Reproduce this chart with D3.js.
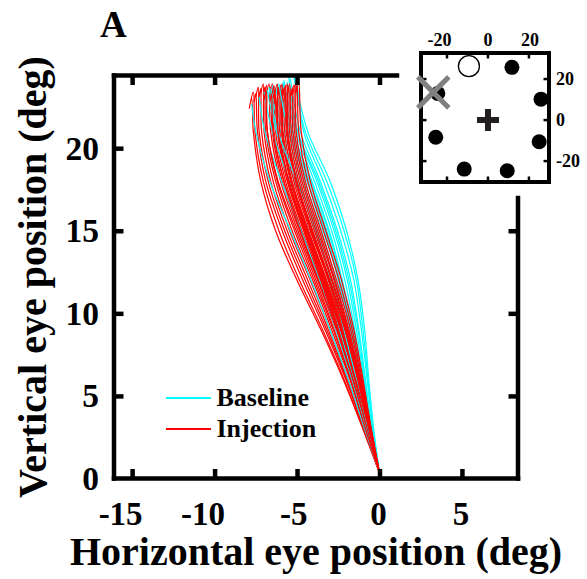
<!DOCTYPE html>
<html><head><meta charset="utf-8">
<script src="https://cdn.jsdelivr.net/npm/d3@7"></script>
<style>
body{margin:0;background:#fff}
svg{display:block}
text{font-family:"Liberation Serif","Times New Roman",serif;font-weight:bold;fill:#000}
</style>
</head><body><svg id="c" width="587" height="579"></svg>
<script>
// ---------- data ----------
const xTicks = [-15, -10, -5, 0, 5];
const yTicks = [0, 5, 10, 15, 20];
const xLabels = ["-15", "-10", "-5", "0", "5"];
const yLabels = ["0", "5", "10", "15", "20"];
const seriesNames = ["Baseline", "Injection"];
const seriesColors = ["#00ffff", "#ff0000"];

// vertical levels (deg) at which each trace's horizontal position is read
const yLevels = [0.35, 3, 6, 9, 12, 15, 18, 21];

// Baseline traces: horizontal position at each yLevel
const baselineX = [
  [0, -0.35, -0.65, -0.9, -1.3, -2.0, -3.0, -4.35],
  [0, -0.4, -0.7, -1.0, -1.4, -2.15, -3.2, -4.5],
  [0, -0.4, -0.75, -1.1, -1.55, -2.35, -3.4, -4.6],
  [0, -0.45, -0.85, -1.25, -1.75, -2.55, -3.6, -4.8],
  [0, -0.5, -0.95, -1.4, -1.95, -2.75, -3.8, -5.0],
  [0, -0.5, -1.0, -1.5, -2.1, -2.9, -3.95, -5.1],
  [0, -0.55, -1.05, -1.6, -2.25, -3.05, -4.1, -5.25],
  [0, -0.55, -1.1, -1.7, -2.4, -3.2, -4.25, -5.4],
  [0, -0.6, -1.2, -1.8, -2.5, -3.35, -4.4, -5.55],
  [0, -0.6, -1.25, -1.9, -2.65, -3.5, -4.55, -5.7],
  [0, -0.65, -1.3, -2.0, -2.75, -3.65, -4.7, -5.85],
  [0, -0.65, -1.4, -2.1, -2.9, -3.8, -4.9, -6.0],
  [0, -0.7, -1.45, -2.25, -3.1, -4.05, -5.15, -6.25],
  [0, -0.75, -1.55, -2.4, -3.3, -4.3, -5.45, -6.5],
  [0, -0.8, -1.7, -2.65, -3.65, -4.75, -5.95, -6.95],
  [0, -0.9, -1.9, -3.0, -4.15, -5.4, -6.65, -7.5],
  [0, -0.45, -0.9, -1.3, -1.85, -2.65, -3.7, -4.95],
  [0, -0.55, -1.1, -1.65, -2.3, -3.1, -4.15, -5.3],
  [0, -0.6, -1.15, -1.75, -2.45, -3.3, -4.35, -5.5],
  [0, -0.7, -1.4, -2.15, -2.95, -3.9, -5.0, -6.15]
];
// Baseline trace end points [x, y]
const baselineEnd = [
  [-5.15, 24.3], [-5.2, 24.4], [-5.0, 24.4], [-5.4, 24.2], [-5.6, 24.0],
  [-5.8, 24.1], [-5.9, 23.9], [-6.0, 23.8], [-6.2, 23.9], [-6.3, 23.7],
  [-6.5, 23.8], [-6.6, 23.6], [-6.8, 23.5], [-7.0, 23.4], [-7.3, 23.1],
  [-7.75, 22.7], [-5.5, 24.3], [-5.85, 24.0], [-6.1, 23.9], [-6.7, 23.7]
];

// Injection traces: horizontal position at each yLevel
const injectionX = [
  [0, -1.0, -2.2, -3.55, -5.0, -6.3, -7.2, -7.65],
  [0, -1.0, -2.15, -3.45, -4.85, -6.1, -7.05, -7.55],
  [0, -0.95, -2.05, -3.3, -4.65, -5.9, -6.9, -7.4],
  [0, -0.95, -2.0, -3.2, -4.5, -5.75, -6.75, -7.3],
  [0, -0.9, -1.95, -3.1, -4.35, -5.6, -6.6, -7.15],
  [0, -0.9, -1.9, -3.0, -4.2, -5.45, -6.45, -7.0],
  [0, -0.85, -1.8, -2.9, -4.05, -5.3, -6.3, -6.9],
  [0, -0.85, -1.75, -2.8, -3.95, -5.15, -6.2, -6.8],
  [0, -0.8, -1.65, -2.65, -3.75, -4.95, -6.0, -6.6],
  [0, -0.8, -1.65, -2.6, -3.7, -4.85, -5.9, -6.5],
  [0, -0.75, -1.6, -2.55, -3.6, -4.75, -5.8, -6.4],
  [0, -0.75, -1.55, -2.5, -3.55, -4.7, -5.7, -6.3],
  [0, -0.75, -1.55, -2.45, -3.5, -4.6, -5.6, -6.2],
  [0, -0.7, -1.5, -2.4, -3.45, -4.55, -5.55, -6.15],
  [0, -0.7, -1.5, -2.35, -3.4, -4.5, -5.5, -6.05],
  [0, -0.7, -1.45, -2.3, -3.3, -4.4, -5.4, -5.95],
  [0, -0.7, -1.4, -2.25, -3.25, -4.35, -5.35, -5.9],
  [0, -0.65, -1.4, -2.2, -3.2, -4.3, -5.3, -5.85],
  [0, -0.65, -1.35, -2.15, -3.1, -4.2, -5.2, -5.75],
  [0, -0.65, -1.35, -2.1, -3.05, -4.15, -5.1, -5.65],
  [0, -0.6, -1.3, -2.05, -3.0, -4.05, -5.0, -5.55],
  [0, -0.6, -1.25, -2.0, -2.9, -3.95, -4.9, -5.45],
  [0, -0.6, -1.2, -1.95, -2.85, -3.85, -4.8, -5.35],
  [0, -0.55, -1.2, -1.9, -2.75, -3.75, -4.7, -5.25],
  [0, -0.55, -1.15, -1.85, -2.7, -3.65, -4.6, -5.15],
  [0, -0.55, -1.1, -1.75, -2.6, -3.55, -4.5, -5.05],
  [0, -0.5, -1.05, -1.65, -2.45, -3.4, -4.35, -4.9],
  [0, -0.5, -1.0, -1.55, -2.3, -3.25, -4.2, -4.75],
  [0, -0.75, -1.6, -2.6, -3.7, -4.8, -5.8, -6.45],
  [0, -0.65, -1.45, -2.35, -3.35, -4.45, -5.5, -6.15],
  [0, -0.85, -1.75, -2.75, -3.85, -5.05, -6.15, -6.8],
  [0, -0.6, -1.3, -2.1, -3.05, -4.1, -5.05, -5.6]
];
// Injection trace peak [x, y] and small end hook [x, y]
const injectionEnd = [
  [-7.75, 23.0], [-7.65, 23.4], [-7.5, 23.3], [-7.35, 23.7], [-7.2, 23.6],
  [-7.05, 23.9], [-6.95, 23.7], [-6.85, 23.8], [-6.7, 23.9], [-6.6, 23.7],
  [-6.5, 23.9], [-6.4, 23.8], [-6.35, 23.5], [-6.2, 23.9], [-6.1, 23.7],
  [-6.0, 23.8], [-5.95, 23.5], [-5.9, 23.9], [-5.8, 23.6], [-5.7, 23.8],
  [-5.6, 23.9], [-5.5, 23.7], [-5.45, 23.9], [-5.3, 23.6], [-5.2, 23.8],
  [-5.1, 23.9], [-5.0, 23.8], [-4.9, 24.0], [-6.55, 23.3], [-6.3, 23.2],
  [-6.9, 23.4], [-5.7, 23.3]
];
const injectionHook = [
  [-7.9, 22.4], [-7.8, 22.9], [-7.6, 22.8], [-7.5, 23.1], [-7.3, 23.1],
  [-7.2, 23.3], [-7.05, 23.2], [-7.0, 23.2], [-6.85, 23.3], [-6.7, 23.2],
  [-6.65, 23.3], [-6.5, 23.3], [-6.45, 23.0], [-6.35, 23.3], [-6.2, 23.2],
  [-6.15, 23.2], [-6.05, 23.0], [-6.05, 23.3], [-5.9, 23.1], [-5.85, 23.2],
  [-5.75, 23.3], [-5.6, 23.2], [-5.6, 23.3], [-5.4, 23.1], [-5.35, 23.2],
  [-5.25, 23.3], [-5.1, 23.3], [-5.05, 23.4], [-6.65, 22.8], [-6.4, 22.7],
  [-7.0, 22.9], [-5.8, 22.8]
];

// Inset (target layout, deg)
const insetTicks = [-20, 0, 20];
const insetTickLabels = ["-20", "0", "20"];
const targetX = [11.7, 25.9, 25.0, 9.4, -11.6, -25.5, -24.5];
const targetY = [25.7, 10.2, -10.6, -24.7, -23.9, -8.4, 13.0];
const chosenTarget = [-9.3, 26.3];
const inactivated = [-26.7, 13.5];
const fixation = [0, 0];

// ---------- drawing ----------
const svg = d3.select("#c");
const x = d3.scaleLinear().domain([-16.1, 8.4]).range([114, 518]);
const y = d3.scaleLinear().domain([0, 24.4]).range([478.5, 75.5]);

// traces, drawn in interleaved trial order
const line = d3.line().x(d => x(d[0])).y(d => y(d[1])).curve(d3.curveCatmullRom.alpha(0.5));
function tracePoints(xs, end, hook) {
  const p = xs.map((v, i) => [v, yLevels[i]]).concat([end]);
  return hook ? p.concat([hook]) : p;
}
const traces = [];
for (let i = 0; i < Math.max(injectionX.length, baselineX.length); i++) {
  if (i < injectionX.length) traces.push({ c: seriesColors[1], p: tracePoints(injectionX[i], injectionEnd[i], injectionHook[i]) });
  if (i < baselineX.length) traces.push({ c: seriesColors[0], p: tracePoints(baselineX[i], baselineEnd[i]) });
}
svg.append("g").attr("fill", "none").attr("stroke-width", 1.2)
  .selectAll("path").data(traces).join("path")
  .attr("stroke", d => d.c).attr("d", d => line(d.p));

// frame (top and right sides cut where inset sits)
const topEnd = 397, rightStart = 198;
const frame = svg.append("g").attr("stroke", "#000").attr("stroke-width", 4.5).attr("stroke-linecap", "square");
frame.append("line").attr("x1", x.range()[0]).attr("x2", x.range()[1]).attr("y1", y.range()[0]).attr("y2", y.range()[0]);
frame.append("line").attr("x1", x.range()[0]).attr("x2", x.range()[0]).attr("y1", y.range()[0]).attr("y2", y.range()[1]);
frame.append("line").attr("x1", x.range()[0]).attr("x2", topEnd).attr("y1", y.range()[1]).attr("y2", y.range()[1]);
frame.append("line").attr("x1", x.range()[1]).attr("x2", x.range()[1]).attr("y1", y.range()[0]).attr("y2", rightStart);

// ticks via d3 axes (inward)
const tl = 9.5;
function styleAxis(g) {
  g.select(".domain").remove();
  g.selectAll(".tick line").attr("stroke", "#000").attr("stroke-width", 4.5);
  g.selectAll(".tick text").remove();
}
svg.append("g").attr("transform", `translate(0,${y.range()[0]})`)
  .call(d3.axisBottom(x).tickValues(xTicks).tickSize(-tl)).call(styleAxis);
svg.append("g").attr("transform", `translate(0,${y.range()[1]})`)
  .call(d3.axisTop(x).tickValues(xTicks.filter(v => x(v) < topEnd)).tickSize(-tl)).call(styleAxis);
svg.append("g").attr("transform", `translate(${x.range()[0]},0)`)
  .call(d3.axisLeft(y).tickValues(yTicks.filter(v => v > 0)).tickSize(-tl)).call(styleAxis);
svg.append("g").attr("transform", `translate(${x.range()[1]},0)`)
  .call(d3.axisRight(y).tickValues(yTicks.filter(v => v > 0 && y(v) > rightStart)).tickSize(-tl)).call(styleAxis);

// tick labels
svg.append("g").selectAll("text").data(xTicks).join("text")
  .attr("x", d => d < 0 ? x(d) + 10.5 : x(d) - 1).attr("y", 525)
  .attr("text-anchor", d => d < 0 ? "end" : "middle").attr("font-size", 33)
  .text((d, i) => xLabels[i]);
svg.append("g").selectAll("text").data(yTicks).join("text")
  .attr("x", 99).attr("y", d => y(d)).attr("dy", "0.34em")
  .attr("text-anchor", "end").attr("font-size", 33.5)
  .text((d, i) => yLabels[i]);

// axis titles
svg.append("text").attr("x", 316).attr("y", 565).attr("text-anchor", "middle")
  .attr("font-size", 40).text("Horizontal eye position (deg)");
svg.append("text").attr("transform", "translate(46,277) rotate(-90)").attr("text-anchor", "middle")
  .attr("font-size", 40).text("Vertical eye position (deg)");

// panel letter
svg.append("text").attr("x", 100).attr("y", 37).attr("font-size", 37).text("A");

// legend
const lg = svg.append("g");
[398, 429].forEach((ly, i) => {
  lg.append("line").attr("x1", 166).attr("x2", 211).attr("y1", ly).attr("y2", ly)
    .attr("stroke", seriesColors[i]).attr("stroke-width", 2);
  lg.append("text").attr("x", 216.5).attr("y", ly + 7.5).attr("font-size", 26).text(seriesNames[i]);
});

// ---------- inset ----------
const ix = d3.scaleLinear().domain([-32.7, 29.8]).range([421, 549]);
const iy = d3.scaleLinear().domain([-30.2, 32.7]).range([182, 53]);
const ig = svg.append("g");
ig.append("rect").attr("x", 421).attr("y", 53).attr("width", 128).attr("height", 129)
  .attr("fill", "#fff").attr("stroke", "#000").attr("stroke-width", 4);
const it = ig.append("g").attr("stroke", "#000").attr("stroke-width", 2.5);
insetTicks.forEach(v => {
  it.append("line").attr("x1", ix(v)).attr("x2", ix(v)).attr("y1", 55).attr("y2", 58.5);
  it.append("line").attr("x1", ix(v)).attr("x2", ix(v)).attr("y1", 180).attr("y2", 176.5);
  it.append("line").attr("y1", iy(v)).attr("y2", iy(v)).attr("x1", 423).attr("x2", 426.5);
  it.append("line").attr("y1", iy(v)).attr("y2", iy(v)).attr("x1", 547).attr("x2", 543.5);
});
ig.selectAll("text.t").data(insetTicks).join("text").attr("class", "t")
  .attr("x", d => d < 0 ? ix(d) + 4.5 : ix(d) + (d > 0 ? 1 : 0)).attr("y", 46)
  .attr("text-anchor", d => d < 0 ? "end" : "middle").attr("font-size", 18).text((d, i) => insetTickLabels[i]);
ig.selectAll("text.r").data(insetTicks).join("text").attr("class", "r")
  .attr("x", 556).attr("y", d => iy(d)).attr("dy", "0.34em")
  .attr("font-size", 18).text((d, i) => insetTickLabels[i]);

ig.selectAll("circle.f").data(targetX).join("circle").attr("class", "f")
  .attr("cx", d => ix(d)).attr("cy", (d, i) => iy(targetY[i])).attr("r", 7.5).attr("fill", "#000");
ig.append("circle").attr("cx", ix(chosenTarget[0])).attr("cy", iy(chosenTarget[1])).attr("r", 10.5)
  .attr("fill", "#fff").attr("stroke", "#000").attr("stroke-width", 1.3);
// fixation cross
const fx = ix(fixation[0]), fy = iy(fixation[1]);
ig.append("path").attr("d", `M${fx - 11},${fy}H${fx + 11}M${fx},${fy - 11}V${fy + 11}`)
  .attr("stroke", "#231f20").attr("stroke-width", 6);
// inactivated location X
const cx0 = ix(inactivated[0]), cy0 = iy(inactivated[1]), h = 15.5;
ig.append("path").attr("d", `M${cx0 - h},${cy0 - h}L${cx0 + h},${cy0 + h}M${cx0 - h},${cy0 + h}L${cx0 + h},${cy0 - h}`)
  .attr("stroke", "#808080").attr("stroke-width", 5);
</script>
</body></html>
